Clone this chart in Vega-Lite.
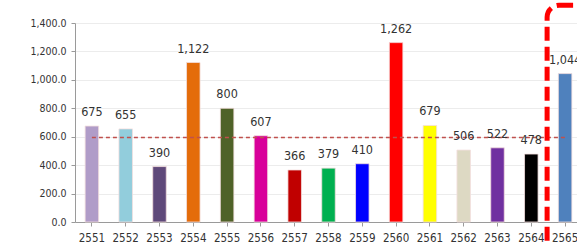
{
  "$schema": "https://vega.github.io/schema/vega-lite/v6.json",
  "width": 507,
  "height": 199,
  "autosize": "none",
  "padding": {"left": 75, "top": 23, "right": -5, "bottom": 24},
  "background": "white",
  "config": {
    "view": {"stroke": null},
    "font": "'DejaVu Sans Condensed', 'Liberation Sans', sans-serif"
  },
  "datasets": {
    "bars": [
      {"year": "2551", "value": 675, "label": "675", "color": "#b09cc8"},
      {"year": "2552", "value": 655, "label": "655", "color": "#92cddc"},
      {"year": "2553", "value": 390, "label": "390", "color": "#5f497a"},
      {"year": "2554", "value": 1122, "label": "1,122", "color": "#e46c0a"},
      {"year": "2555", "value": 800, "label": "800", "color": "#4f6228"},
      {"year": "2556", "value": 607, "label": "607", "color": "#d8009a"},
      {"year": "2557", "value": 366, "label": "366", "color": "#c00000"},
      {"year": "2558", "value": 379, "label": "379", "color": "#00b050"},
      {"year": "2559", "value": 410, "label": "410", "color": "#0000ff"},
      {"year": "2560", "value": 1262, "label": "1,262", "color": "#ff0000"},
      {"year": "2561", "value": 679, "label": "679", "color": "#ffff00"},
      {"year": "2562", "value": 506, "label": "506", "color": "#ddd9c3"},
      {"year": "2563", "value": 522, "label": "522", "color": "#7030a0"},
      {"year": "2564", "value": 478, "label": "478", "color": "#000000"},
      {"year": "2565", "value": 1044, "label": "1,044", "color": "#4f81bd"}
    ],
    "avg": [{"year": "2551", "end": "2565", "value": 595}],
    "box": [{"year": "2565", "value": 1525, "bottom": -260}]
  },
  "encoding": {
    "x": {
      "field": "year",
      "type": "ordinal",
      "scale": {"domain": ["2551","2552","2553","2554","2555","2556","2557","2558","2559","2560","2561","2562","2563","2564","2565"], "paddingInner": 0.6, "paddingOuter": 0.3},
      "axis": {
        "title": null,
        "labelAngle": 0,
        "labelFontSize": 11.5,
        "labelColor": "#333333",
        "labelPadding": 6,
        "labelOverlap": false,
        "domainColor": "#9a9a9a",
        "tickColor": "#9a9a9a",
        "tickSize": 4
      }
    },
    "y": {
      "field": "value",
      "type": "quantitative",
      "scale": {"domain": [0, 1400], "nice": false},
      "axis": {
        "title": null,
        "values": [0, 200, 400, 600, 800, 1000, 1200, 1400],
        "format": ",.1f",
        "labelFontSize": 10.5,
        "labelColor": "#333333",
        "labelPadding": 5,
        "labelOverlap": false,
        "domainColor": "#9a9a9a",
        "tickColor": "#9a9a9a",
        "tickSize": 4,
        "gridColor": "#ececec",
        "gridWidth": 1
      }
    }
  },
  "layer": [
    {
      "data": {"name": "bars"},
      "mark": {"type": "bar", "stroke": "#f4dede", "strokeWidth": 0.8},
      "encoding": {
        "color": {"field": "color", "type": "nominal", "scale": null, "legend": null}
      }
    },
    {
      "data": {"name": "avg"},
      "mark": {"type": "rule", "color": "#c0504d", "strokeWidth": 1.6, "strokeDash": [4, 3]},
      "encoding": {
        "x2": {"field": "end"}
      }
    },
    {
      "data": {"name": "bars"},
      "mark": {"type": "text", "baseline": "bottom", "dy": -7, "fontSize": 12.5, "color": "#333333"},
      "encoding": {
        "text": {"field": "label"}
      }
    },
    {
      "data": {"name": "box"},
      "mark": {"type": "rect", "fill": null, "fillOpacity": 0, "stroke": "#ff0000", "strokeWidth": 5, "strokeDash": [14, 6], "cornerRadius": 12, "xOffset": -18, "x2Offset": 40},
      "encoding": {
        "x2": {"field": "year"},
        "y2": {"field": "bottom"}
      }
    }
  ]
}
